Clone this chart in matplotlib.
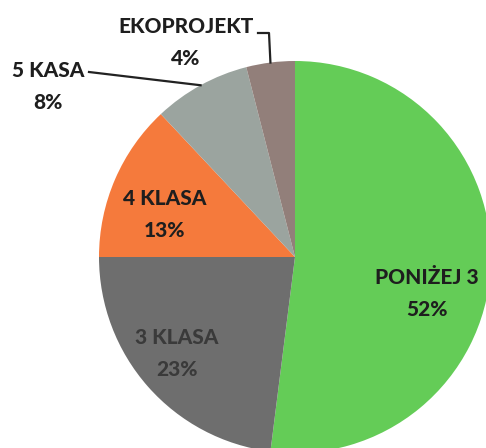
import numpy as np
import matplotlib
matplotlib.use('Agg')
import matplotlib.pyplot as plt

# Data.
labels = ['PONIŻEJ 3', '3 KLASA', '4 KLASA', '5 KASA', 'EKOPROJEKT']
shares = [52, 23, 13, 8, 4]
colors = ['#64cc57', '#6e6e6e', '#f57a3c', '#9ba49f', '#927f7a']

# Label placement (pixel coords, y measured from top).
label_pos = [(427, 277), (177, 337), (165, 198), (48, 70), (186, 26)]
text_colors = ['#1e1e1e', '#3a3a3a', '#1e1e1e', '#1e1e1e', '#1e1e1e']

W, H = 486, 448
cx, cy, r = 295, H - 257, 196

fig = plt.figure(figsize=(W / 100, H / 100), dpi=100)
ax = fig.add_axes([0, 0, 1, 1])

wedges, _ = ax.pie(shares, colors=colors, startangle=90, counterclock=False,
                   center=(cx, cy), radius=r, frame=True,
                   wedgeprops=dict(linewidth=0))
ax.set_xlim(0, W)
ax.set_ylim(0, H)
ax.set_aspect('equal')
ax.axis('off')

font = dict(family=['Lato', 'DejaVu Sans'], fontweight='black', fontsize=15)
for i, (lab, val) in enumerate(zip(labels, shares)):
    x, y = label_pos[i]
    ax.text(x, H - y, lab, ha='center', va='center', color=text_colors[i], **font)
    ax.text(x, H - y - 32, '%d%%' % val, ha='center', va='center', color=text_colors[i], **font)

# Leader lines for the two small slices.
for i in (3, 4):
    w = wedges[i]
    ang = np.deg2rad((w.theta1 + w.theta2) / 2)
    ex, ey = cx + r * np.cos(ang), cy + r * np.sin(ang)
    if labels[i] == 'EKOPROJEKT':
        ax.plot([258, 269, ex], [H - 33, H - 33, ey], color='#222222', lw=1.6)
    else:
        ax.plot([89, ex], [H - 72, ey], color='#222222', lw=1.6)

fig.savefig('out.png', dpi=100)
